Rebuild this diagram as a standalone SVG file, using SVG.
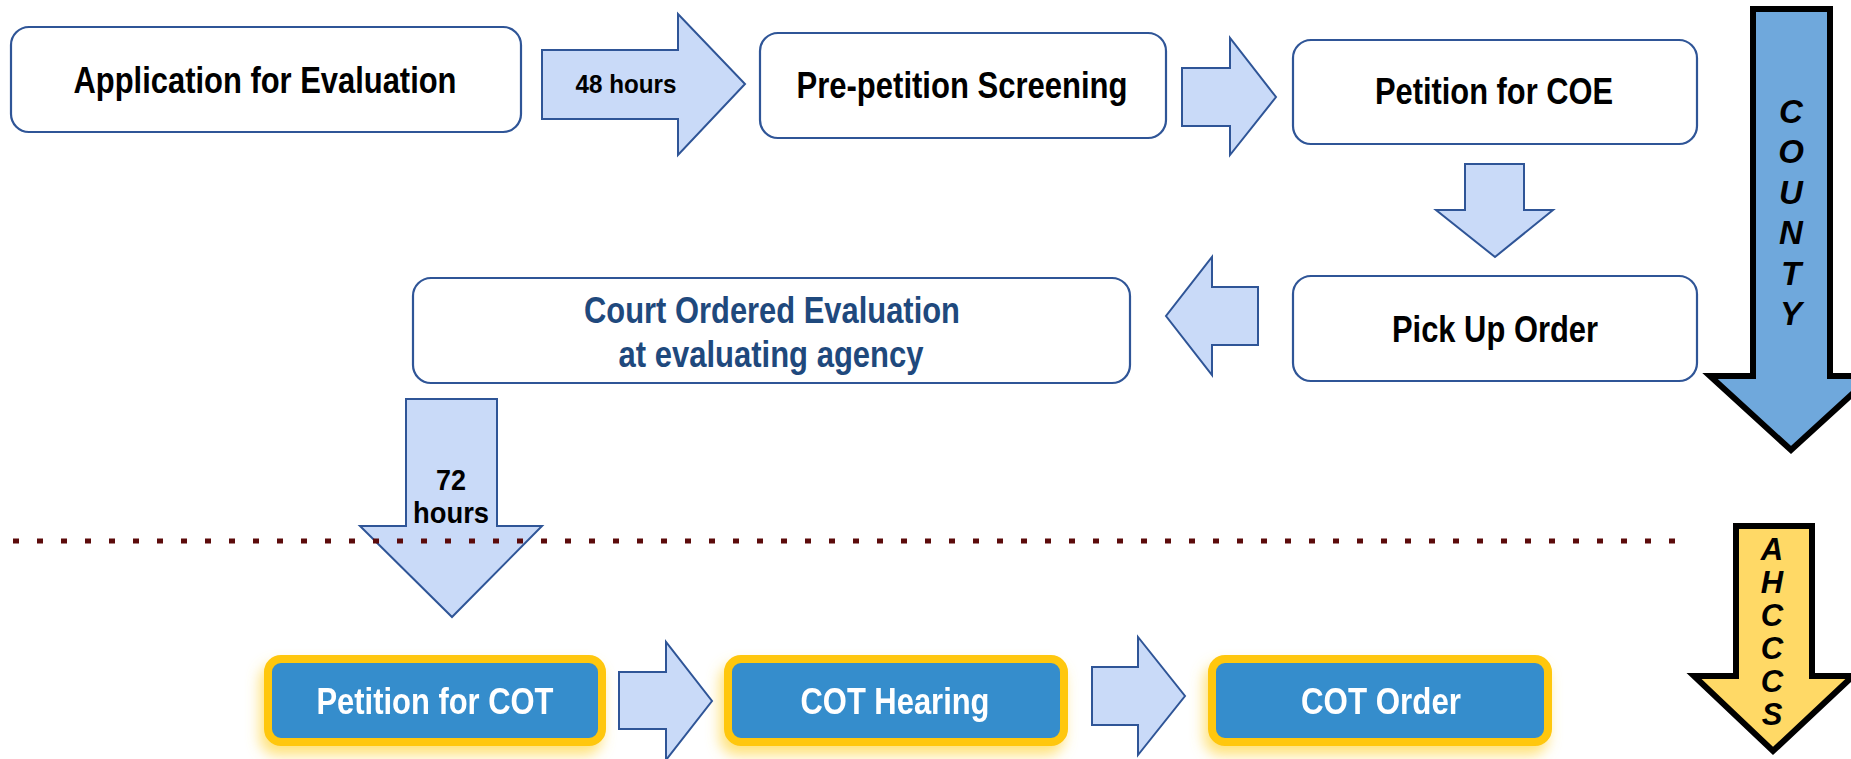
<svg xmlns="http://www.w3.org/2000/svg" width="1851" height="759" viewBox="0 0 1851 759">
<defs>
<style>
.box{fill:#ffffff;stroke:#2f5597;stroke-width:2.2}
.cot{fill:#368dcc;stroke:#ffc708;stroke-width:8}
.arr{fill:#c9daf8;stroke:#2f5597;stroke-width:2;stroke-linejoin:miter}
.t{font-family:"Liberation Sans Narrow","Liberation Sans",Arial,sans-serif;font-weight:bold;font-size:37px;text-anchor:middle;fill:#000}
.tb{fill:#1f497d}
.tw{fill:#ffffff}
.lbl{font-family:"Liberation Sans Narrow","Liberation Sans",Arial,sans-serif;font-weight:bold;text-anchor:middle;fill:#000}
.side{font-family:"Liberation Sans",Arial,sans-serif;font-weight:bold;font-style:italic;text-anchor:middle;fill:#000}
</style>
<filter id="glow" x="-20%" y="-40%" width="140%" height="190%">
<feGaussianBlur in="SourceAlpha" stdDeviation="7"/>
<feOffset dx="-4" dy="9" result="b"/>
<feFlood flood-color="#ffd84d" flood-opacity="0.75"/>
<feComposite in2="b" operator="in"/>
<feMerge><feMergeNode/><feMergeNode in="SourceGraphic"/></feMerge>
</filter>
</defs>
<rect width="1851" height="759" fill="#ffffff"/>

<g id="node-application">
<rect class="box" x="11" y="27" width="510" height="105" rx="18"/>
<text class="t" x="265" y="93" textLength="383" lengthAdjust="spacingAndGlyphs">Application for Evaluation</text>
</g>
<g id="node-prepetition">
<rect class="box" x="760" y="33" width="406" height="105" rx="18"/>
<text class="t" x="962" y="98" textLength="331" lengthAdjust="spacingAndGlyphs">Pre-petition Screening</text>
</g>
<g id="node-petition-coe">
<rect class="box" x="1293" y="40" width="404" height="104" rx="18"/>
<text class="t" x="1494" y="104" textLength="238" lengthAdjust="spacingAndGlyphs">Petition for COE</text>
</g>
<g id="node-pickup">
<rect class="box" x="1293" y="276" width="404" height="105" rx="18"/>
<text class="t" x="1495" y="342" textLength="206" lengthAdjust="spacingAndGlyphs">Pick Up Order</text>
</g>
<g id="node-coe">
<rect class="box" x="413" y="278" width="717" height="105" rx="18"/>
<text class="t tb" x="772" y="323" textLength="376" lengthAdjust="spacingAndGlyphs">Court Ordered Evaluation</text>
<text class="t tb" x="771" y="367" textLength="305" lengthAdjust="spacingAndGlyphs">at evaluating agency</text>
</g>
<g id="node-petition-cot" filter="url(#glow)">
<rect class="cot" x="268" y="659" width="334" height="83" rx="13"/>
<text class="t tw" x="435" y="714" textLength="237" lengthAdjust="spacingAndGlyphs">Petition for COT</text>
</g>
<g id="node-cot-hearing" filter="url(#glow)">
<rect class="cot" x="728" y="659" width="336" height="83" rx="13"/>
<text class="t tw" x="895" y="714" textLength="189" lengthAdjust="spacingAndGlyphs">COT Hearing</text>
</g>
<g id="node-cot-order" filter="url(#glow)">
<rect class="cot" x="1212" y="659" width="336" height="83" rx="13"/>
<text class="t tw" x="1381" y="714" textLength="160" lengthAdjust="spacingAndGlyphs">COT Order</text>
</g>

<g id="connectors">
<polygon class="arr" points="542,50 678,50 678,14 745,84 678,155 678,119 542,119"/>
<text class="lbl" x="626" y="93" font-size="26" textLength="101" lengthAdjust="spacingAndGlyphs">48 hours</text>
<polygon class="arr" points="1182,68 1230,68 1230,38 1276,97 1230,155 1230,126 1182,126"/>
<polygon class="arr" points="1465,164 1524,164 1524,210 1553,210 1495,257 1436,210 1465,210"/>
<polygon class="arr" points="1258,287 1212,287 1212,257 1166,316 1212,375 1212,345 1258,345"/>
<polygon class="arr" points="406,399 497,399 497,526 542,526 452,617 360,526 406,526"/>
<text class="lbl" x="451" y="490" font-size="30" textLength="30" lengthAdjust="spacingAndGlyphs">72</text>
<text class="lbl" x="451" y="523" font-size="30" textLength="76" lengthAdjust="spacingAndGlyphs">hours</text>
<polygon class="arr" points="619,672 666,672 666,642 712,701 666,760 666,729 619,729"/>
<polygon class="arr" points="1092,667 1138,667 1138,637 1185,696 1138,755 1138,725 1092,725"/>
</g>

<g id="divider">
<line x1="13" y1="541" x2="1677" y2="541" stroke="#5c0b0b" stroke-width="5" stroke-dasharray="6 18"/>
</g>

<g id="county">
<polygon points="1753,9 1830,9 1830,376 1872,376 1791,450 1710,376 1753,376" fill="#6fa8dc" stroke="#000" stroke-width="6" stroke-linejoin="miter"/>
<text class="side" x="1791" y="123" font-size="33">C</text>
<text class="side" x="1791" y="163" font-size="33">O</text>
<text class="side" x="1791" y="204" font-size="33">U</text>
<text class="side" x="1791" y="244" font-size="33">N</text>
<text class="side" x="1791" y="285" font-size="33">T</text>
<text class="side" x="1791" y="325" font-size="33">Y</text>
</g>

<g id="ahcccs">
<polygon points="1736,526 1812,526 1812,676 1853,676 1773,751 1694,676 1736,676" fill="#ffd966" stroke="#000" stroke-width="6" stroke-linejoin="miter"/>
<text class="side" x="1772" y="560" font-size="31">A</text>
<text class="side" x="1772" y="593" font-size="31">H</text>
<text class="side" x="1772" y="626" font-size="31">C</text>
<text class="side" x="1772" y="659" font-size="31">C</text>
<text class="side" x="1772" y="692" font-size="31">C</text>
<text class="side" x="1772" y="725" font-size="31">S</text>
</g>
</svg>
